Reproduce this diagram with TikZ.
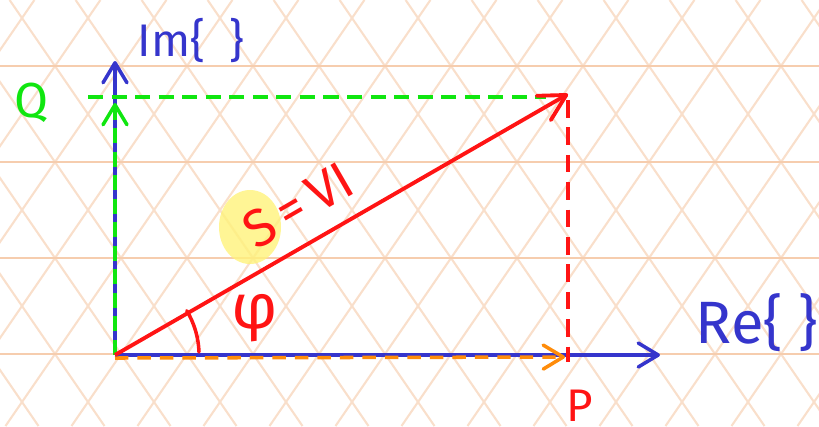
\documentclass[tikz,border=0pt]{standalone}
\usepackage{fontspec}
\setmainfont{Fira Sans}
\usetikzlibrary{arrows.meta,calc}
\definecolor{axisBlue}{HTML}{3535CC}
\definecolor{vecRed}{HTML}{FF1414}
\definecolor{vecGreen}{HTML}{10E610}
\definecolor{vecOrange}{HTML}{FF8C0A}
\definecolor{gridDiag}{HTML}{F9DFCB}
\definecolor{gridHor}{HTML}{F6CDAE}
\definecolor{markYellow}{HTML}{FFF27A}
\tikzset{
  gridLine/.style={draw=gridDiag, line width=0.6pt},
  gridRule/.style={draw=gridHor, line width=0.7pt},
  barb/.style={-{Straight Barb[length=2mm, width=2.4mm, round]}},
  axisArc/.style={barb, draw=axisBlue, line width=1pt},
  sArc/.style={-{Straight Barb[length=2.6mm, width=2.8mm, round]}, draw=vecRed, line width=1.1pt},
  qArc/.style={barb, draw=vecGreen, line width=1pt, dash pattern=on 4.3pt off 2.4pt},
  qDrop/.style={draw=vecGreen, line width=1pt, dash pattern=on 4.3pt off 2.4pt},
  pArc/.style={barb, draw=vecOrange, line width=1pt, dash pattern=on 3.8pt off 2.6pt},
  pDrop/.style={draw=vecRed, line width=1pt, dash pattern=on 5pt off 2.8pt},
  angleArc/.style={draw=vecRed, line width=1pt, line cap=round},
  handText/.style={inner sep=0pt},
}

\begin{document}
\begin{tikzpicture}[x=0.1mm, y=-0.1mm]
    \useasboundingbox (0,0) rectangle (819,426);
    % paper grid
    \begin{scope}
      \clip (0,0) rectangle (819,426);
      \foreach \k in {-5,...,12}
        \draw[gridLine] ({9.6+66*\k},0) -- ({302.5+66*\k},426);
      \foreach \k in {-1,...,17}
        \draw[gridLine] ({100.4+66*\k},0) -- ({-192.5+66*\k},426);
      \foreach \y in {66,162,258,354}
        \draw[gridRule] (0,\y) -- (819,\y);
    \end{scope}
    % points
    \coordinate (O) at (115,355);
    \coordinate (imTip) at (115,61);
    \coordinate (reTip) at (660,355);
    \coordinate (sTip) at (568,94);
    \coordinate (qTip) at (115,103);
    \coordinate (qStart) at (88,97);
    \coordinate (qEnd) at (546,97);
    \coordinate (pTop) at (568,100);
    \coordinate (pFoot) at (568,362);
    \coordinate (oLow) at (115,358);
    \coordinate (pTip) at (565,357);
    % highlight behind S
    \fill[markYellow, opacity=0.8] (250,227) ellipse[x radius=31, y radius=37];
    % axes
    \draw[axisArc] (O) -- (imTip);
    \draw[axisArc] (O) -- (reTip);
    % components
    \draw[qArc] (O) -- (qTip);
    \draw[qDrop] (qStart) -- (qEnd);
    \draw[pArc] (oLow) -- (pTip);
    \draw[pDrop] (pTop) -- (pFoot);
    \draw[sArc] (O) -- (sTip);
    \draw[angleArc] (O) ++(84,-3) arc[start angle=-2, end angle=-31, radius=86];
    % labels
    \node[handText, text=axisBlue, font=\fontsize{13}{15}\selectfont] (imLabel) at (191,40) {Im\{\ \ \}};
    \node[handText, text=axisBlue, font=\fontsize{17}{19}\selectfont] (reLabel) at (757,323) {Re\{\ \}};
    \node[handText, text=vecGreen, font=\fontsize{14}{16}\selectfont] (qLabel) at (32,103) {Q};
    \node[handText, text=vecRed, font=\fontsize{13}{15}\selectfont] (pLabel) at (580,406) {P};
    \node[handText, text=vecRed, font=\fontsize{15}{17}\selectfont, rotate=30] (sLabel) at (298,205) {S\,=\,VI};
    \node[handText, text=vecRed, font=\fontsize{18}{20}\selectfont] (phiLabel) at (255,318) {φ};
  \end{tikzpicture}
\end{document}
